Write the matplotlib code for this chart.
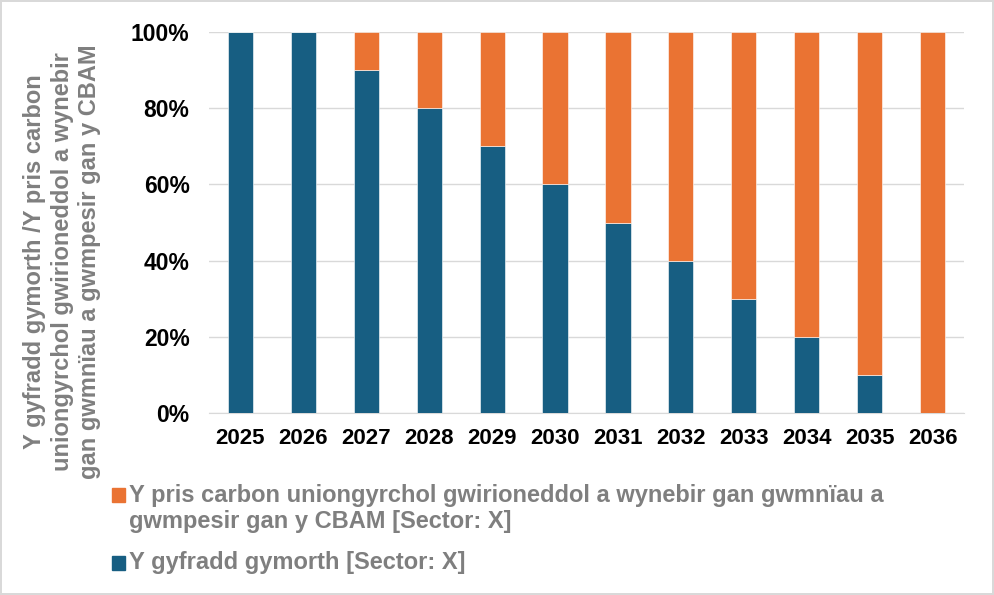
import matplotlib
matplotlib.use("Agg")
import matplotlib.pyplot as plt
from matplotlib.patches import Rectangle
import numpy as np

plt.rcParams['font.family'] = ['Liberation Sans', 'DejaVu Sans']

years = ['2025', '2026', '2027', '2028', '2029', '2030', '2031', '2032', '2033', '2034', '2035', '2036']
support_rate = [1.0, 1.0, 0.9, 0.8, 0.7, 0.6, 0.5, 0.4, 0.3, 0.2, 0.1, 0.0]
carbon_price = [0.0, 0.0, 0.1, 0.2, 0.3, 0.4, 0.5, 0.6, 0.7, 0.8, 0.9, 1.0]
yticks = [0, 0.2, 0.4, 0.6, 0.8, 1.0]
ytick_labels = ['0%', '20%', '40%', '60%', '80%', '100%']

label_orange_lines = ['Y pris carbon uniongyrchol gwirioneddol a wynebir gan gwmnïau a',
                      'gwmpesir gan y CBAM [Sector: X]']
label_blue = 'Y gyfradd gymorth [Sector: X]'
ylabel_lines = ['Y gyfradd gymorth /Y pris carbon',
                'uniongyrchol gwirioneddol a wynebir',
                'gan gwmnïau a gwmpesir gan y CBAM']

blue = '#175E82'
orange = '#EA7333'
grey_text = '#7F7F7F'

W, H = 994, 595
fig = plt.figure(figsize=(W / 100, H / 100), dpi=100)
fig.patch.set_edgecolor('#D9D9D9')
fig.patch.set_linewidth(1.5)
ax = fig.add_axes([209 / W, 1 - 413 / H, 755 / W, 381 / H])

x = np.arange(len(years))
w = 0.4
b1 = ax.bar(x, support_rate, w, color=blue, edgecolor='white', linewidth=0.4, zorder=3)
b2 = ax.bar(x, carbon_price, w, bottom=support_rate, color=orange, edgecolor='white', linewidth=0.4, zorder=3)

ax.set_xlim(-0.5, len(years) - 0.5)
ax.set_ylim(0, 1.0)
ax.set_yticks(yticks)
ax.set_yticklabels(ytick_labels, fontsize=16.5, fontweight='bold', color='black')
ax.set_xticks(x)
ax.set_xticklabels(years, fontsize=16, fontweight='bold', color='black')
ax.tick_params(axis='x', length=0, pad=11)
ax.tick_params(axis='y', length=0, pad=14)
ax.yaxis.grid(True, color='#D9D9D9', linewidth=1, zorder=0)
for s in ['top', 'right', 'left']:
    ax.spines[s].set_visible(False)
ax.spines['bottom'].set_color('#D9D9D9')

# y-axis title (three centred lines, rotated)
for i, (line, xc) in enumerate(zip(ylabel_lines, [35, 62.5, 90])):
    fig.text(xc / W, 1 - 262 / H, line, rotation=90, ha='center', va='center',
             fontsize=17, fontweight='bold', color=grey_text)

# legend
fig.patches.append(Rectangle((112 / W, 1 - 502 / H), 13 / W, 14 / H,
                             transform=fig.transFigure, color=orange, figure=fig))
fig.patches.append(Rectangle((112 / W, 1 - 570 / H), 13 / W, 14 / H,
                             transform=fig.transFigure, color=blue, figure=fig))
fig.text(129 / W, 1 - 502 / H, label_orange_lines[0], ha='left', va='baseline',
         fontsize=17, fontweight='bold', color=grey_text)
fig.text(129 / W, 1 - 528 / H, label_orange_lines[1], ha='left', va='baseline',
         fontsize=17, fontweight='bold', color=grey_text)
fig.text(129 / W, 1 - 569 / H, label_blue, ha='left', va='baseline',
         fontsize=17, fontweight='bold', color=grey_text)

fig.savefig('out.png', dpi=100)
